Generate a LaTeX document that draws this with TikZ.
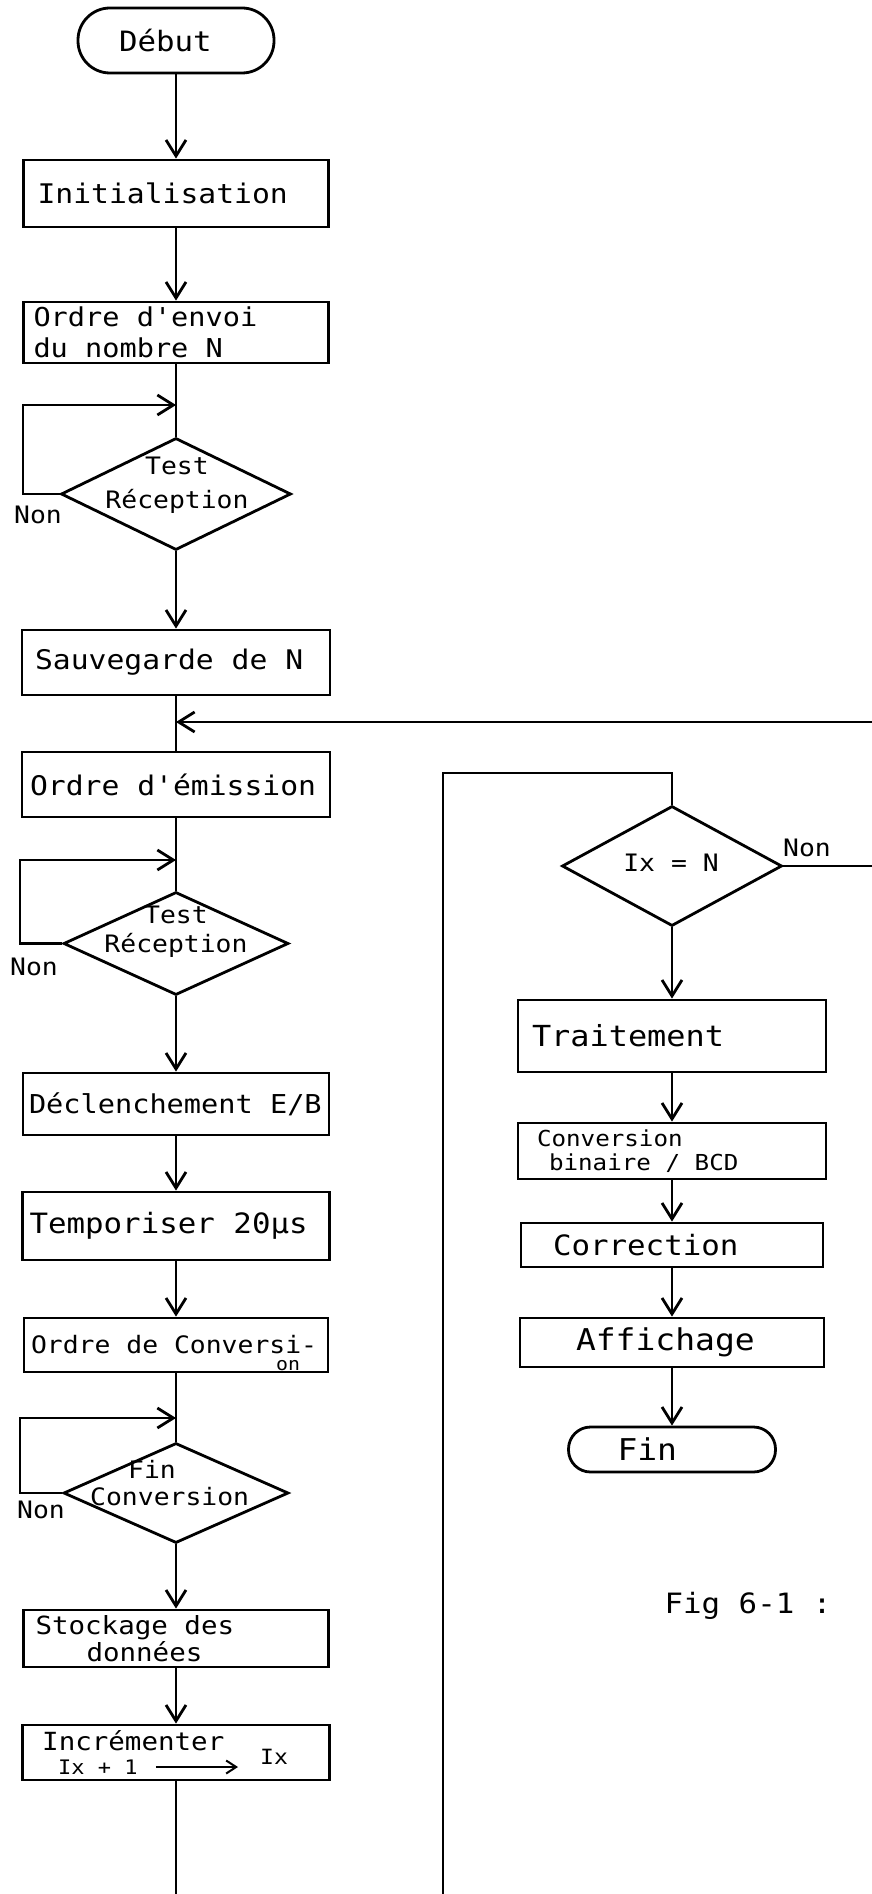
\documentclass[tikz,border=0pt]{standalone}
\usepackage{fontspec}
\usetikzlibrary{arrows.meta,shapes.geometric,calc}
\newfontfamily\hand{DejaVu Sans Mono}[FakeStretch=1.1]
% hand lettering at a given size; interword space taken from the font itself
\newcommand\wsp{\spaceskip=0pt\relax\xspaceskip=0pt\relax}
\newcommand\hsz[2]{\hand\fontsize{#1pt}{#2pt}\selectfont\wsp}

\tikzset{
  pen/.style={line width=2.8pt},
  box/.style={draw, pen, rectangle, inner sep=0pt, align=left},
  term/.style={draw, pen, rectangle, rounded corners=#1, inner sep=0pt, align=left},
  term/.default=30pt,
  test/.style={draw, pen, diamond, inner sep=0pt},
  lbl/.style={inner sep=0pt},
  flow/.style={pen, -{Straight Barb[length=16pt,width=20pt]}},
  smallflow/.style={line width=2pt, -{Straight Barb[length=10pt,width=13pt]}},
  link/.style={pen},
}

\begin{document}
\begin{tikzpicture}[x=1pt,y=-1pt]
\fill[white] (0,0) rectangle (872,1894);
\useasboundingbox (0,0) rectangle (872,1894);

% ---- main column ----
\node[term=32pt, minimum width=196pt, minimum height=65pt, text width=114pt, font=\hsz{28}{30}] (debut) at (176,40.5) {Début};
\node[box, minimum width=305pt, minimum height=67pt, text width=277pt, font=\hsz{27}{30}] (init) at (176,193.5) {Initialisation};
\node[box, minimum width=305pt, minimum height=61pt, text width=285pt, font=\hsz{26}{31}] (envoi) at (176,332.5) {\wsp Ordre d'envoi\\\wsp du nombre N};
\node[test, minimum width=230pt, minimum height=112pt] (d1) at (176,494) {};
\node[lbl, align=center, font=\hsz{24}{34}] (d1t) at (177,485) {Test\\Réception};
\node[box, minimum width=308pt, minimum height=65pt, text width=282pt, font=\hsz{27}{30}] (sauv) at (176,662.5) {\wsp Sauvegarde de N};
\node[box, minimum width=308pt, minimum height=65pt, text width=292pt, font=\hsz{27}{30}] (emis) at (176,784.5) {\wsp Ordre d'émission};
\node[test, minimum width=225pt, minimum height=103pt] (d2) at (176,943.5) {};
\node[lbl, align=center, font=\hsz{24}{29}] (d2t) at (176,932) {Test\\Réception};
\node[box, minimum width=306pt, minimum height=62pt, text width=294pt, font=\hsz{26}{30}] (decl) at (176,1104) {\wsp Déclenchement E/B};
\node[box, minimum width=307pt, minimum height=68pt, text width=293pt, font=\hsz{28}{30}] (tempo) at (176,1226) {\wsp Temporiser 20µs};
\node[box, minimum width=304pt, minimum height=54pt, text width=290pt, font=\hsz{24}{28}] (oconv) at (176,1345) {\wsp Ordre de Conversi-};
\node[lbl, font=\hsz{18}{20}] (oconvb) at (288,1366) {on};
\node[test, minimum width=225pt, minimum height=100pt] (d3) at (176,1493) {};
\node[lbl, align=left, anchor=west, font=\hsz{24}{27}] (d3t) at (90,1483) {\hspace*{38pt}Fin\\Conversion};
\node[box, minimum width=305pt, minimum height=57pt, text width=281pt, font=\hsz{25}{25}] (stock) at (176,1638.5) {\wsp Stockage des\\\hspace*{51pt}données};
\node[box, minimum width=307pt, minimum height=55pt] (incr) at (176,1752.5) {};
\node[lbl, anchor=west, font=\hsz{25}{28}] (incra) at (42,1741) {Incrémenter};
\node[lbl, anchor=west, font=\hsz{20}{24}] (incrb) at (58,1767) {Ix + 1};
\node[lbl, anchor=west, font=\hsz{21}{24}] (incrc) at (260,1757) {Ix};
\draw[smallflow] ([xshift=18pt]incrb.east) -- ($(incrb.east -| incrc.west)+(-22,0)$);

% "Non" labels of the waiting loops
\node[lbl, font=\hsz{24}{26}] (nona) at (38,515) {Non};
\node[lbl, font=\hsz{24}{26}] (nonb) at (34,967) {Non};
\node[lbl, font=\hsz{24}{26}] (nonc) at (41,1510) {Non};

% ---- right column ----
\node[test, minimum width=220pt, minimum height=120pt] (d4) at (672,866) {};
\node[lbl, font=\hsz{24}{26}] (d4t) at (671,863) {Ix = N};
\node[lbl, font=\hsz{24}{26}] (nond) at (807,848) {Non};
\node[box, minimum width=308pt, minimum height=72pt, text width=280pt, font=\hsz{29}{30}] (trait) at (672,1036) {Traitement};
\node[box, minimum width=308pt, minimum height=56pt, text width=270pt, font=\hsz{22}{24}] (bcd) at (672,1151) {Conversion\\\hspace*{12pt}\wsp binaire / BCD};
\node[box, minimum width=302pt, minimum height=44pt, text width=238pt, font=\hsz{28}{30}] (corr) at (672,1245) {Correction};
\node[box, minimum width=304pt, minimum height=49pt, text width=192pt, font=\hsz{30}{32}] (affi) at (672,1342.5) {Affichage};
\node[term=22pt, minimum width=207pt, minimum height=45pt, text width=109pt, font=\hsz{30}{32}] (fin) at (672,1449.5) {Fin};

\node[lbl, font=\hsz{28}{30}] (fig) at (748,1606) {Fig 6-1 :};

% ---- junction points ----
\coordinate (j1) at (176,405);  \coordinate (l1) at (23,405);
\coordinate (j0) at (176,722);  \coordinate (r0) at (872,722);
\coordinate (j2) at (176,860);  \coordinate (l2) at (20,860);
\coordinate (j3) at (176,1418); \coordinate (l3) at (20,1418);
\coordinate (b0) at (176,1894);
\coordinate (b1) at (443,1894); \coordinate (t4) at (443,773);
\coordinate (r4) at (872,866);

% ---- connectors, main column ----
\draw[flow] (debut) -- (init);
\draw[flow] (init) -- (envoi);
\draw[link] (envoi) -- (d1);
\draw[flow] (d1.west) -| (l1) -- (j1);
\draw[flow] (d1) -- (sauv);
\draw[link] (sauv) -- (emis);
\draw[flow] (r0) -- (j0);
\draw[link] (emis) -- (d2);
\draw[flow] (d2.west) -| (l2) -- (j2);
\draw[flow] (d2) -- (decl);
\draw[flow] (decl) -- (tempo);
\draw[flow] (tempo) -- (oconv);
\draw[link] (oconv) -- (d3);
\draw[flow] (d3.west) -| (l3) -- (j3);
\draw[flow] (d3) -- (stock);
\draw[flow] (stock) -- (incr);
\draw[link] (incr) -- (b0);

% ---- connectors, right column ----
\draw[link] (b1) -- (t4) -| (d4.north);
\draw[link] (d4.east) -- (r4);
\draw[flow] (d4) -- (trait);
\draw[flow] (trait) -- (bcd);
\draw[flow] (bcd) -- (corr);
\draw[flow] (corr) -- (affi);
\draw[flow] (affi) -- (fin);
\end{tikzpicture}
\end{document}
